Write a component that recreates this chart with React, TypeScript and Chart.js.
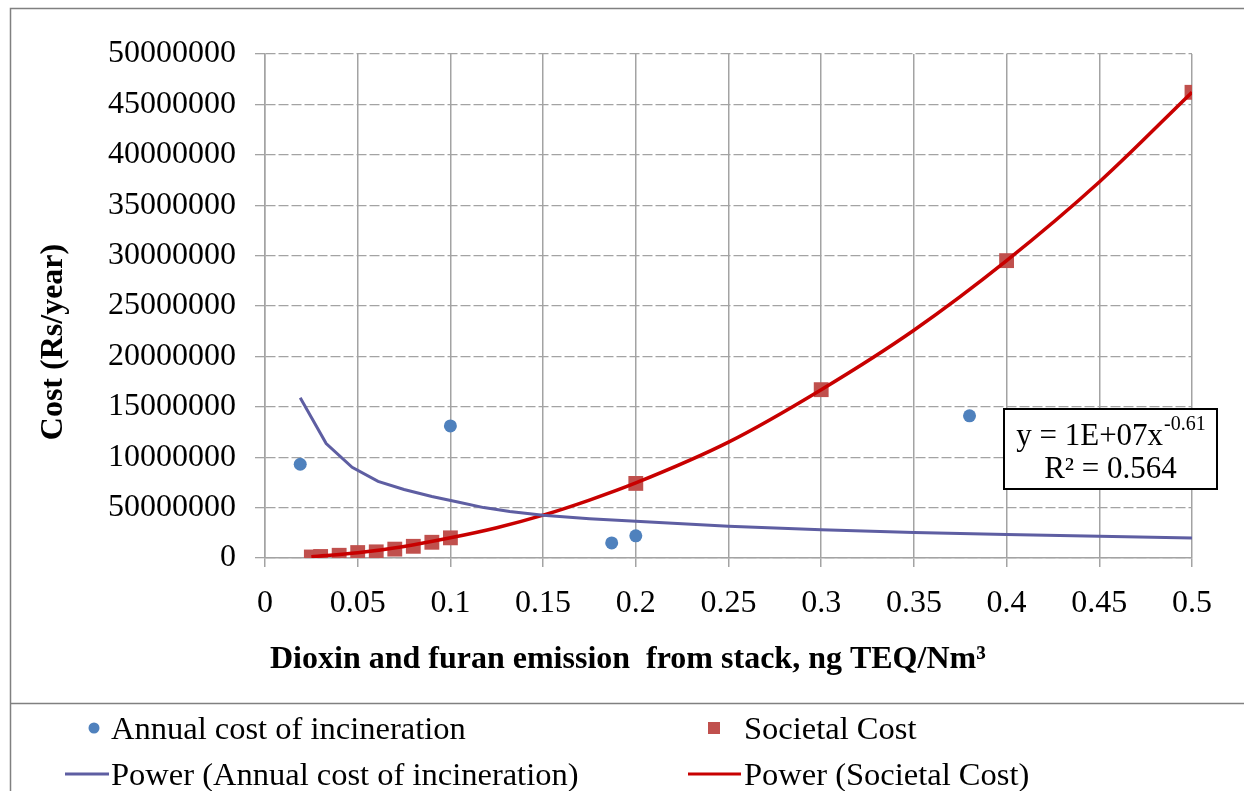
import { useEffect, useRef } from "react";
import { Chart, registerables } from "chart.js";

Chart.register(...registerables);

const SERIF = "'Liberation Serif', 'Times New Roman', serif";

// Axis tick captions (the second y caption is printed as in the source sheet)
const xTickLabels = ["0", "0.05", "0.1", "0.15", "0.2", "0.25", "0.3", "0.35", "0.4", "0.45", "0.5"];
const yTickLabels = [
  "0", "50000000", "10000000", "15000000", "20000000", "25000000",
  "30000000", "35000000", "40000000", "45000000", "50000000",
];

// Annual cost of incineration (observed)
const incinerationX = [0.019, 0.1, 0.187, 0.2, 0.38];
const incinerationCost = [9300000, 13100000, 1500000, 2200000, 14100000];

// Societal cost (observed)
const societalX = [0.025, 0.03, 0.04, 0.05, 0.06, 0.07, 0.08, 0.09, 0.1, 0.2, 0.3, 0.4, 0.5];
const societalCost = [
  100000, 150000, 270000, 540000, 610000, 880000, 1160000, 1560000, 2000000,
  7400000, 16700000, 29500000, 46200000,
];

// Power trendline through the incineration cost
const incinerationFitX = [
  0.019, 0.033, 0.047, 0.061, 0.075, 0.09, 0.104, 0.118, 0.132, 0.15, 0.175,
  0.2, 0.25, 0.3, 0.35, 0.4, 0.45, 0.5,
];
const incinerationFitCost = [
  15900000, 11350000, 9000000, 7600000, 6800000, 6100000, 5550000, 5000000,
  4620000, 4250000, 3900000, 3650000, 3150000, 2800000, 2520000, 2320000,
  2150000, 1990000,
];

// Power trendline through the societal cost
const societalFitX = [0.025, 0.05, 0.075, 0.1, 0.125, 0.15, 0.175, 0.2, 0.25, 0.3, 0.35, 0.4, 0.45, 0.5];
const societalFitCost = [
  130000, 520000, 1150000, 2000000, 3000000, 4250000, 5750000, 7450000,
  11500000, 16700000, 22600000, 29500000, 37300000, 46200000,
];

const seriesNames = [
  "Annual cost of incineration",
  "Societal Cost",
  "Power (Annual cost of incineration)",
  "Power (Societal Cost)",
];

const xTitle = "Dioxin and furan emission  from stack, ng TEQ/Nm³";
const yTitle = "Cost (Rs/year)";
const fitEquation = "y = 1E+07x";
const fitExponent = "-0.61";
const fitR2 = "R² = 0.564";

const BLUE_DOT = "#4F81BD";
const RED_SQUARE = "#C0504D";
const BLUE_FIT = "#5E5EA2";
const RED_FIT = "#C80000";
const GRID = "#A3A3A3";
const FRAME = "#808080";

const WIDTH = 1244;
const HEIGHT = 791;
const PLOT_LEFT = 265;
const PLOT_TOP = 54;
const PLOT_RIGHT = 1192;
const PLOT_BOTTOM = 558;
const LEGEND_TOP = 703;

const toPoints = (xs: number[], ys: number[]) => xs.map((x, i) => ({ x, y: ys[i] }));

const decorations = {
  id: "decorations",
  beforeDraw(chart: any) {
    const ctx = chart.ctx as CanvasRenderingContext2D;
    ctx.save();
    ctx.fillStyle = "#ffffff";
    ctx.fillRect(0, 0, chart.width, chart.height);
    ctx.restore();
  },
  afterDraw(chart: any) {
    const ctx = chart.ctx as CanvasRenderingContext2D;
    const area = chart.chartArea;
    const ds = chart.data.datasets;
    ctx.save();

    // frame of the chart and of the legend panel
    ctx.strokeStyle = FRAME;
    ctx.lineWidth = 1.5;
    ctx.beginPath();
    ctx.moveTo(10.5, HEIGHT);
    ctx.lineTo(10.5, 8.5);
    ctx.lineTo(WIDTH, 8.5);
    ctx.moveTo(10, LEGEND_TOP + 0.5);
    ctx.lineTo(WIDTH, LEGEND_TOP + 0.5);
    ctx.stroke();

    // axis titles
    ctx.fillStyle = "#000";
    ctx.font = `bold 32px ${SERIF}`;
    ctx.textBaseline = "alphabetic";
    ctx.textAlign = "left";
    ctx.fillText(xTitle, area.left + 5, 668);

    ctx.save();
    ctx.translate(62, (area.top + area.bottom) / 2 + 36);
    ctx.rotate(-Math.PI / 2);
    ctx.textAlign = "center";
    ctx.fillText(yTitle, 0, 0);
    ctx.restore();

    // trendline equation box
    const bx = area.right - 188;
    const by = 409;
    const bw = 213;
    const bh = 80;
    ctx.fillStyle = "#fff";
    ctx.fillRect(bx, by, bw, bh);
    ctx.strokeStyle = "#000";
    ctx.lineWidth = 2;
    ctx.strokeRect(bx, by, bw, bh);
    ctx.fillStyle = "#000";
    const cx = bx + bw / 2;
    ctx.font = `31px ${SERIF}`;
    const mainW = ctx.measureText(fitEquation).width;
    ctx.font = `20px ${SERIF}`;
    const expW = ctx.measureText(fitExponent).width;
    const startX = cx - (mainW + expW) / 2;
    ctx.textAlign = "left";
    ctx.font = `31px ${SERIF}`;
    ctx.fillText(fitEquation, startX, by + 36);
    ctx.font = `20px ${SERIF}`;
    ctx.fillText(fitExponent, startX + mainW + 1, by + 21);
    ctx.font = `31px ${SERIF}`;
    ctx.textAlign = "center";
    ctx.fillText(fitR2, cx, by + 69);

    // legend
    const row1 = 728;
    const row2 = 774;
    const col1Text = 111;
    const col2Text = 744;
    ctx.font = `32.5px ${SERIF}`;
    ctx.textAlign = "left";
    ctx.fillStyle = "#000";

    ctx.fillStyle = ds[0].backgroundColor;
    ctx.beginPath();
    ctx.arc(94, row1, 5.5, 0, Math.PI * 2);
    ctx.fill();
    ctx.fillStyle = "#000";
    ctx.fillText(ds[0].label, col1Text, row1 + 11);

    ctx.fillStyle = ds[1].backgroundColor;
    ctx.fillRect(714 - 6, row1 - 6, 12, 12);
    ctx.fillStyle = "#000";
    ctx.fillText(ds[1].label, col2Text, row1 + 11);

    ctx.lineWidth = 3;
    ctx.strokeStyle = ds[2].borderColor;
    ctx.beginPath();
    ctx.moveTo(65, row2);
    ctx.lineTo(109, row2);
    ctx.stroke();
    ctx.fillText(ds[2].label, col1Text, row2 + 11);

    ctx.strokeStyle = ds[3].borderColor;
    ctx.beginPath();
    ctx.moveTo(688, row2);
    ctx.lineTo(741, row2);
    ctx.stroke();
    ctx.fillText(ds[3].label, col2Text, row2 + 11);

    ctx.restore();
  },
};

export default function App() {
  const canvasRef = useRef<HTMLCanvasElement | null>(null);

  useEffect(() => {
    const canvas = canvasRef.current;
    if (!canvas) return;
    const chart = new Chart(canvas, {
      type: "scatter",
      data: {
        datasets: [
          {
            label: seriesNames[0],
            data: toPoints(incinerationX, incinerationCost),
            pointStyle: "circle",
            pointRadius: 6.5,
            backgroundColor: BLUE_DOT,
            borderColor: BLUE_DOT,
            borderWidth: 0,
            order: 2,
          },
          {
            label: seriesNames[1],
            data: toPoints(societalX, societalCost),
            pointStyle: "rect",
            pointRadius: 10.5,
            backgroundColor: RED_SQUARE,
            borderColor: RED_SQUARE,
            borderWidth: 0,
            order: 2,
          },
          {
            label: seriesNames[2],
            data: toPoints(incinerationFitX, incinerationFitCost),
            showLine: true,
            pointRadius: 0,
            borderColor: BLUE_FIT,
            backgroundColor: BLUE_FIT,
            borderWidth: 3,
            tension: 0,
            order: 1,
          },
          {
            label: seriesNames[3],
            data: toPoints(societalFitX, societalFitCost),
            showLine: true,
            pointRadius: 0,
            borderColor: RED_FIT,
            backgroundColor: RED_FIT,
            borderWidth: 3.5,
            cubicInterpolationMode: "monotone",
            order: 1,
          },
        ],
      },
      options: {
        animation: false,
        responsive: false,
        events: [],
        layout: { padding: { left: 0, top: PLOT_TOP, right: WIDTH - PLOT_RIGHT, bottom: 0 } },
        plugins: {
          legend: { display: false },
          tooltip: { enabled: false },
        },
        scales: {
          x: {
            type: "linear",
            min: 0,
            max: 0.5,
            ticks: {
              stepSize: 0.05,
              autoSkip: false,
              maxRotation: 0,
              padding: 17,
              color: "#000",
              font: { family: SERIF, size: 32 },
              callback: (_v: any, i: number) => xTickLabels[i] ?? "",
            },
            grid: { color: GRID, lineWidth: 1.5, tickLength: 9, tickColor: GRID },
            border: { color: GRID, width: 1.5 },
            afterFit: (s: any) => {
              s.height = HEIGHT - PLOT_BOTTOM;
            },
          },
          y: {
            type: "linear",
            min: 0,
            max: 50000000,
            ticks: {
              stepSize: 5000000,
              padding: 19,
              color: "#000",
              font: { family: SERIF, size: 32 },
              callback: (_v: any, i: number) => yTickLabels[i] ?? "",
            },
            grid: {
              color: GRID,
              lineWidth: 1.3,
              tickLength: 10,
              tickColor: GRID,
              tickBorderDash: [10, 3],
            },
            border: { color: GRID, width: 1.5, dash: [10, 3] },
            afterFit: (s: any) => {
              s.width = PLOT_LEFT;
            },
          },
        },
      },
      plugins: [decorations],
    } as any);
    return () => chart.destroy();
  }, []);

  return (
    <div style={{ position: "fixed", left: 0, top: 0, width: WIDTH, height: HEIGHT, background: "#fff" }}>
      <canvas ref={canvasRef} width={WIDTH} height={HEIGHT} style={{ display: "block", width: WIDTH, height: HEIGHT }} />
    </div>
  );
}
